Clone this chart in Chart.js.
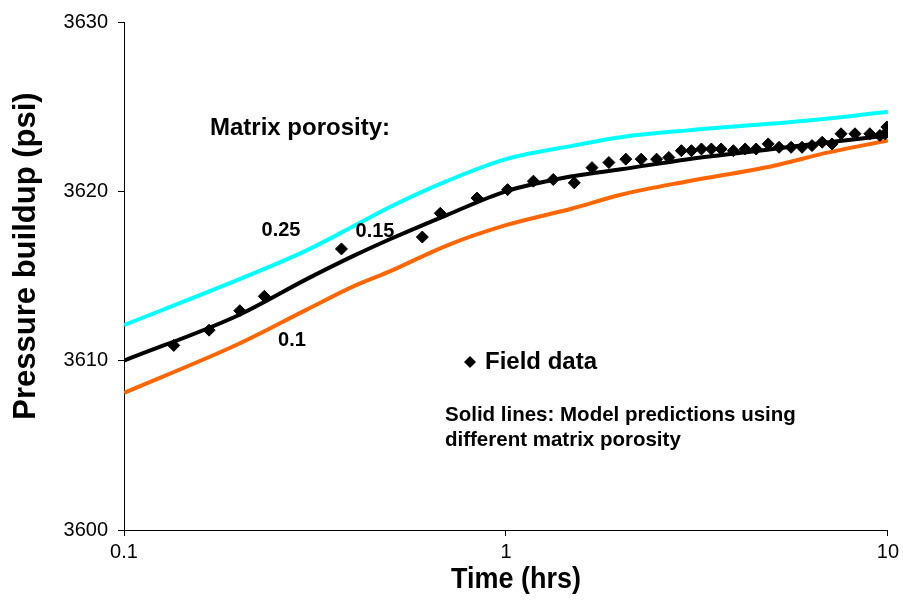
<!DOCTYPE html>
<html>
<head>
<meta charset="utf-8">
<script src="https://cdn.jsdelivr.net/npm/chart.js@4/dist/chart.umd.min.js"></script>
<style>
  html, body { margin: 0; padding: 0; background: #fff; }
  #wrap { width: 903px; height: 600px; }
</style>
</head>
<body>
<div id="wrap"><canvas id="c" width="903" height="600"></canvas></div>
<script>
  // model curves (time in hrs, pressure in psi)
  const modelTime = [0.1, 0.2, 0.3, 0.4, 0.5, 0.7, 1, 1.5, 2, 3, 5, 7, 10];
  const phi025 = [3612.1, 3614.8, 3616.5, 3617.95, 3619.1, 3620.6, 3621.9, 3622.7, 3623.2, 3623.6, 3624.0, 3624.3, 3624.7];
  const phi015 = [3610.0, 3612.7, 3614.8, 3616.2, 3617.2, 3618.6, 3620.0, 3620.9, 3621.3, 3621.9, 3622.5, 3622.9, 3623.3];
  const phi010 = [3608.1, 3611.0, 3613.0, 3614.4, 3615.3, 3616.8, 3618.0, 3619.0, 3619.8, 3620.6, 3621.5, 3622.3, 3623.0];

  // field data
  const fieldTime = [0.135, 0.167, 0.201, 0.233, 0.371, 0.604, 0.673, 0.84, 1.01, 1.18, 1.33, 1.51, 1.68, 1.86,
    2.06, 2.26, 2.48, 2.67, 2.88, 3.06, 3.25, 3.45, 3.66, 3.94, 4.23, 4.52, 4.86, 5.19, 5.58, 5.96,
    6.33, 6.73, 7.14, 7.54, 8.2, 8.97, 9.53, 9.94, 9.83];
  const fieldPsi = [3610.9, 3611.8, 3612.95, 3613.8, 3616.6, 3617.3, 3618.7, 3619.6, 3620.1, 3620.6, 3620.7, 3620.5, 3621.4, 3621.7,
    3621.9, 3621.9, 3621.9, 3622.0, 3622.4, 3622.4, 3622.5, 3622.5, 3622.5, 3622.4, 3622.5, 3622.5, 3622.8, 3622.6, 3622.6, 3622.6,
    3622.7, 3622.9, 3622.8, 3623.4, 3623.4, 3623.4, 3623.3, 3623.8, 3623.4];

  const xTicks = [0.1, 1, 10];
  const FONT = "'Liberation Sans', Arial, sans-serif";

  const pts = (xs, ys) => xs.map((x, i) => ({ x, y: ys[i] }));

  const lineSet = (label, data, color) => ({
    type: 'line',
    label,
    data: pts(modelTime, data),
    borderColor: color,
    backgroundColor: color,
    borderWidth: 4,
    pointRadius: 0,
    cubicInterpolationMode: 'monotone',
    fill: false
  });

  // axis titles and free text labels
  const notes = {
    id: 'notes',
    afterDatasetsDraw(chart) {
      const c = chart.ctx;
      c.save();
      c.fillStyle = '#000';
      c.textBaseline = 'middle';
      c.textAlign = 'left';
      c.font = `bold 24px ${FONT}`;
      c.fillText('Matrix porosity:', 210, 128);
      c.textAlign = 'center';
      c.font = `bold 20px ${FONT}`;
      c.fillText('0.25', 281, 230);
      c.fillText('0.15', 375, 231);
      c.fillText('0.1', 292, 340);

      // legend for field data
      c.beginPath();
      c.moveTo(464, 362); c.lineTo(470, 356); c.lineTo(476, 362); c.lineTo(470, 368);
      c.closePath();
      c.fill();
      c.textAlign = 'left';
      c.font = `bold 24px ${FONT}`;
      c.fillText('Field data', 485, 362);

      c.font = `bold 20.5px ${FONT}`;
      c.fillText('Solid lines: Model predictions using', 445, 415);
      c.fillText('different matrix porosity', 445, 440);

      // axis titles
      c.textAlign = 'center';
      c.font = `bold 29px ${FONT}`;
      c.save();
      c.translate(516, 580);
      c.scale(0.93, 1);
      c.fillText('Time (hrs)', 0, 0);
      c.restore();
      c.save();
      c.translate(26, 256);
      c.rotate(-Math.PI / 2);
      c.font = `bold 31px ${FONT}`;
      c.fillText('Pressure buildup (psi)', 0, 0);
      c.restore();
      c.restore();
    }
  };

  new Chart(document.getElementById('c'), {
    type: 'scatter',
    data: {
      datasets: [
        {
          label: 'Field data',
          data: pts(fieldTime, fieldPsi),
          pointStyle: 'rectRot',
          pointRadius: 6,
          backgroundColor: '#000',
          borderColor: '#000',
          borderWidth: 1,
          order: 0
        },
        { ...lineSet('0.25', phi025, '#00FFFF'), order: 3 },
        { ...lineSet('0.15', phi015, '#000000'), order: 1 },
        { ...lineSet('0.1', phi010, '#FF6600'), order: 2 }
      ]
    },
    options: {
      responsive: false,
      animation: false,
      layout: { padding: { top: 18, right: 10, left: 0, bottom: 0 } },
      plugins: { legend: { display: false }, tooltip: { enabled: false } },
      scales: {
        x: {
          type: 'logarithmic',
          min: 0.1,
          max: 10,
          afterBuildTicks: (s) => { s.ticks = xTicks.map(v => ({ value: v })); },
          afterFit: (s) => { s.height = 70; },
          ticks: {
            autoSkip: false, maxRotation: 0, padding: 4, color: '#000',
            font: { family: FONT, size: 20 },
            callback: (v) => String(v)
          },
          grid: { drawOnChartArea: false, tickLength: 6, color: '#000' },
          border: { color: '#000', width: 1 }
        },
        y: {
          min: 3600,
          max: 3630,
          afterFit: (s) => { s.width = 124; },
          ticks: {
            stepSize: 10, padding: 10, color: '#000',
            font: { family: FONT, size: 20 },
            callback: (v) => String(v)
          },
          grid: { drawOnChartArea: false, tickLength: 6, color: '#000' },
          border: { color: '#000', width: 1 }
        }
      }
    },
    plugins: [notes]
  });
</script>
</body>
</html>
